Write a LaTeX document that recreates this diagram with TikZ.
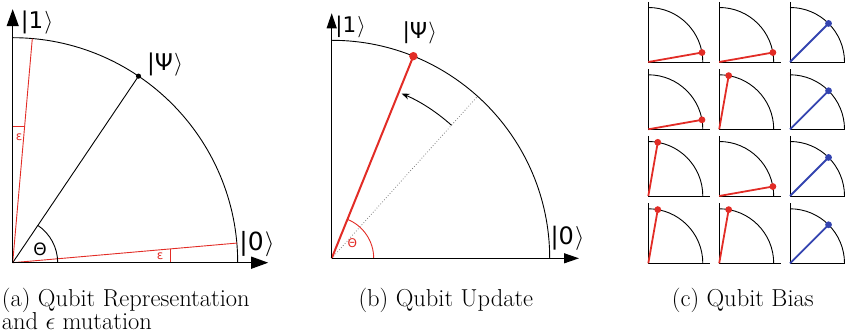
\RequirePackage{fix-cm}
\documentclass[tikz,border=0pt]{standalone}
\usepackage{fontspec}
\newfontfamily\lab{DejaVu Sans}
\usetikzlibrary{arrows.meta,calc}
\definecolor{qred}{RGB}{226,44,38}
\definecolor{qblue}{RGB}{52,68,176}
\newcommand\myket[1]{|#1\kern0.05em$\rangle$}
\begin{document}
\begin{tikzpicture}[x=1pt,y=1pt,
  axisa/.style={line width=1.3pt,-{Triangle[length=17pt,width=12pt]}},
  axisb/.style={line width=1.1pt,-{Triangle[length=15pt,width=10pt]}},
  thinline/.style={line width=0.9pt},
  redthin/.style={qred,line width=0.9pt},
  ket/.style={font=\lab\fontsize{#1}{#1}\selectfont,inner sep=0pt},
  ket/.default=21,
  captext/.style={font=\fontsize{24.5}{23}\selectfont,inner sep=0pt},
  mini/.style={line width=0.9pt}]
\useasboundingbox (0,0) rectangle (845,336);

% ---------------- panel (a)
\begin{scope}[shift={(12.7,73.3)}]
  \coordinate (aO) at (0,0);
  \coordinate (aY) at (0,253.5);
  \coordinate (aX) at (255.5,0);
  \coordinate (aP) at (56:225);
  \coordinate (aE1) at (85:225);
  \coordinate (aE0) at (5:225);
  \draw[thinline] (225,0) arc[start angle=0,end angle=90,radius=225pt];
  \draw[thinline] (aO) -- (aP);
  \fill (aP) circle (2.6);
  \draw[redthin] (aO) -- (aE1);
  \draw[redthin] (aO) -- (aE0);
  \draw[redthin] (0,136) -- (11.9,136);
  \draw[redthin] (158,0) -- (158,13.8);
  \draw[thinline] (45,0) arc[start angle=0,end angle=56,radius=45pt];
  \draw[axisa] (aO) -- (aY);
  \draw[axisa] (aO) -- (aX);
\end{scope}
\node[ket=23] (a1) at (37,313.5) {\myket{1}};
\node[ket=23] (apsi) at (165,271) {\myket{Ψ}};
\node[ket=25] (a0) at (257,91.5) {\myket{0}};
\node[ket=17] (ath) at (40,87) {Θ};
\node[ket=12,text=qred] (aeps1) at (19,198.5) {ε};
\node[ket=12,text=qred] (aeps0) at (160,80) {ε};

% ---------------- panel (b)
\begin{scope}[shift={(331.7,77.7)}]
  \coordinate (bO) at (0,0);
  \coordinate (bY) at (0,245);
  \coordinate (bX) at (247.3,0);
  \coordinate (bP) at (68:218);
  \coordinate (bD) at (48:218);
  \draw[thinline] (218,0) arc[start angle=0,end angle=90,radius=218pt];
  \draw[gray,line width=0.8pt,dotted] (bO) -- (bD);
  \draw[thinline,-{Stealth[length=8pt,width=6pt]}] (48:179) arc[start angle=48,end angle=67,radius=179pt];
  \draw[qred,line width=0.9pt] (42,0) arc[start angle=0,end angle=68,radius=42pt];
  \draw[qred,line width=2pt] (bO) -- (bP);
  \fill[qred] (bP) circle (4.2);
  \draw[axisb] (bO) -- (bY);
  \draw[axisb] (bO) -- (bX);
\end{scope}
\node[ket=21.5] (b1) at (350.5,309.3) {\myket{1}};
\node[ket=22] (bpsi) at (419.7,302.7) {\myket{Ψ}};
\node[ket=24] (b0) at (567.5,97.7) {\myket{0}};
\node[ket=12,text=qred] (bth) at (352.3,92.7) {Θ};

% ---------------- panel (c)
\foreach \cx/\cy/\ang/\col in {
  648.3/274/10/qred, 719.2/274/10/qred, 790/274/45/qblue,
  648.3/206.7/10/qred, 719.2/206.7/80/qred, 790/206.7/45/qblue,
  648.3/140/80/qred, 719.2/140/10/qred, 790/140/45/qblue,
  648.3/72.7/80/qred, 719.2/72.7/80/qred, 790/72.7/45/qblue}{
  \begin{scope}[shift={(\cx,\cy)}]
    \coordinate (cO) at (0,0);
    \coordinate (cP) at (\ang:54.5);
    \draw[mini] (0,60) -- (cO) -- (62,0);
    \draw[mini] (54.5,0) arc[start angle=0,end angle=90,radius=54.5pt];
    \draw[\col,line width=1.8pt] (cO) -- (cP);
    \fill[\col] (cP) circle (3.4);
  \end{scope}
}

% ---------------- captions
\node[captext,anchor=base west] (capa1) at (1.7,29) {(a) Qubit Representation};
\node[captext,anchor=base west] (capa2) at (1.7,6) {and $\epsilon$ mutation};
\node[captext,anchor=base west] (capb) at (358.3,29) {(b) Qubit Update};
\node[captext,anchor=base west] (capc) at (671.7,29) {(c) Qubit Bias};
\end{tikzpicture}
\end{document}
